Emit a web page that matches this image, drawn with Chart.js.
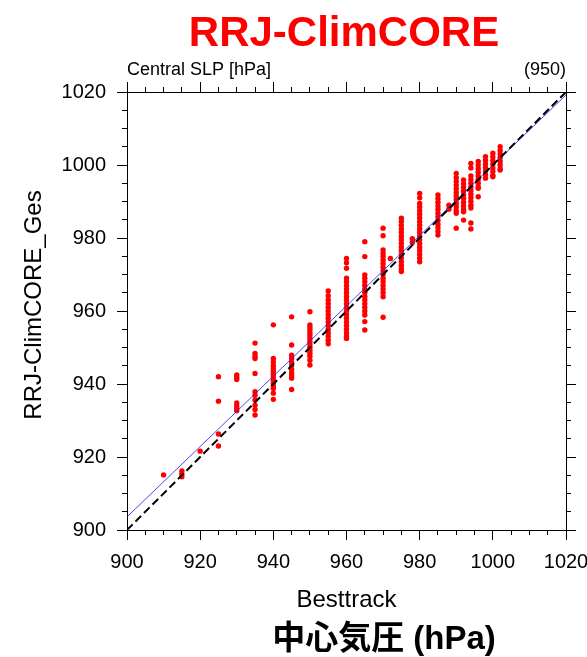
<!DOCTYPE html>
<html>
<head>
<meta charset="utf-8">
<script src="https://cdn.jsdelivr.net/npm/chart.js@4"></script>
<style>
  body { margin: 0; background: #fff; }
  canvas { display: block; }
</style>
</head>
<body>
<canvas id="chart" width="587" height="657"></canvas>
<script>
// Besttrack pressure of each column and the guess values read off at it
const bestTrack = [910, 915, 920, 925, 930, 935, 940, 945, 950, 955, 960, 965, 970, 972,
                   975, 978, 980, 985, 988, 990, 992, 994, 996, 998, 1000, 1002];
const gesValues = [
    [915.1],
    [916.2, 915.4, 914.6],
    [921.6],
    [942.0, 935.3, 926.3, 923.0],
    [942.5, 941.8, 941.2, 934.8, 934.0, 933.3, 932.7],
    [951.2, 948.4, 947.6, 947.0, 942.9, 937.9, 936.9, 935.6, 934.2, 933.0, 931.5],
    [956.2, 947.0, 946.0, 945.0, 944.2, 943.5, 942.6, 941.8, 941.0, 940.2, 939.5, 938.8, 937.5, 935.8],
    [958.4, 950.7, 947.9, 947.0, 946.0, 945.0, 944.0, 943.0, 942.2, 941.6, 938.5],
    [959.8, 956.2, 955.5, 954.8, 954.0, 953.2, 952.4, 951.6, 950.8, 950.0, 949.2, 948.4, 947.6, 946.5, 945.2],
    [965.5, 964.2, 963.0, 962.0, 961.0, 960.0, 959.0, 958.0, 957.0, 956.0, 955.0, 954.0, 953.0, 952.0, 951.0],
    [974.4, 973.2, 971.7, 969.0, 968.0, 967.0, 966.0, 965.0, 964.0, 963.0, 962.0, 961.0, 960.0, 959.0, 958.0,
     957.0, 956.0, 955.0, 954.0, 953.0, 952.5],
    [979.0, 974.9, 969.9, 969.0, 968.0, 967.0, 966.0, 965.0, 964.0, 963.0, 962.0, 961.0, 960.0, 958.9, 957.1, 954.8],
    [982.7, 980.6, 976.7, 975.8, 975.0, 974.0, 973.0, 972.0, 971.0, 970.0, 969.0, 968.0, 967.0, 966.0, 965.0,
     963.9, 958.3],
    [974.4],
    [985.4, 984.5, 983.5, 982.5, 981.5, 980.5, 979.5, 978.5, 977.5, 976.5, 975.5, 974.5, 973.5, 972.5, 971.5, 970.8],
    [979.8, 978.8],
    [992.2, 991.0, 989.5, 988.5, 987.5, 986.5, 985.5, 984.5, 983.5, 982.5, 981.5, 980.5, 979.5, 978.5, 977.5,
     976.5, 975.5, 974.5, 973.5],
    [991.8, 990.8, 989.8, 988.8, 987.8, 986.8, 985.8, 984.8, 983.8, 982.8, 981.8, 980.8],
    [989.0, 987.9],
    [997.7, 996.5, 995.5, 994.5, 993.5, 992.5, 991.5, 990.5, 989.5, 988.5, 987.5, 986.8, 982.7],
    [995.9, 994.8, 993.8, 992.8, 991.8, 990.8, 989.8, 988.8, 987.8, 987.2, 984.9],
    [1000.4, 999.2, 997.0, 996.0, 995.0, 994.0, 993.0, 992.0, 991.0, 990.0, 989.0, 988.2, 984.1, 982.5],
    [1001.0, 1000.0, 999.0, 998.0, 997.0, 996.0, 995.0, 994.0, 993.6, 991.3],
    [1002.3, 1001.3, 1000.3, 999.3, 998.3, 997.3, 996.4],
    [1003.2, 1002.2, 1001.2, 1000.2, 999.2, 998.2, 997.2, 996.8],
    [1005.0, 1004.0, 1003.0, 1002.0, 1001.0, 1000.0, 999.0, 998.6]
];

// 1:1 line and the fitted line (end points)
const refX = [900, 1020];
const refY = [900, 1020];
const fitX = [900, 1020];
const fitY = [903.6, 1019.2];

const axisMin = 900;
const axisMax = 1020;
const majorStep = 20;
const minorStep = 5;

const titleText = 'RRJ-ClimCORE';
const leftString = 'Central SLP [hPa]';
const rightString = '(950)';
const xTitle = 'Besttrack';
const yTitle = 'RRJ-ClimCORE_Ges';
const caption = '中心気圧 (hPa)';

const points = [];
bestTrack.forEach((bt, i) => {
    gesValues[i].forEach(v => points.push({ x: bt, y: v }));
});
const toXY = (xs, ys) => xs.map((x, i) => ({ x: x, y: ys[i] }));

Chart.defaults.font.family = '"Liberation Sans", Arial, sans-serif';
Chart.defaults.color = '#000';

// one axis per side with labels + major ticks, one more per side for minor ticks
function makeAxis(axis, position, step, tickLen, size, showLabels, weight) {
    return {
        type: 'linear',
        axis: axis,
        position: position,
        min: axisMin,
        max: axisMax,
        weight: weight,
        ticks: {
            display: showLabels,
            stepSize: step,
            autoSkip: false,
            maxRotation: 0,
            padding: axis === 'x' ? 10 : 11,
            font: { size: 20 },
            color: '#000',
            callback: (value) => String(value)
        },
        grid: {
            drawOnChartArea: false,
            drawTicks: true,
            tickLength: tickLen,
            tickColor: '#000',
            tickWidth: 1
        },
        border: { display: true, color: '#000', width: 1 },
        afterFit(scale) {
            if (axis === 'x') scale.height = size;
            else scale.width = size;
            scale.paddingLeft = 0;
            scale.paddingRight = 0;
            scale.paddingTop = 0;
            scale.paddingBottom = 0;
        }
    };
}

const textPlugin = {
    id: 'textPlugin',
    afterDraw(chart) {
        const c = chart.ctx;
        const area = chart.chartArea;
        c.save();

        c.fillStyle = '#ff0000';
        c.font = 'bold 42px "Liberation Sans"';
        c.textAlign = 'center';
        c.textBaseline = 'alphabetic';
        c.fillText(titleText, 344, 46);

        c.fillStyle = '#000';
        c.font = '18px "Liberation Sans"';
        c.textAlign = 'left';
        c.fillText(leftString, area.left, 75);
        c.textAlign = 'right';
        c.fillText(rightString, area.right, 75);

        c.font = '24px "Liberation Sans"';
        c.textAlign = 'center';
        c.fillText(xTitle, (area.left + area.right) / 2, 607);

        c.save();
        c.translate(41, (area.top + area.bottom) / 2 - 6);
        c.rotate(-Math.PI / 2);
        c.fillText(yTitle, 0, 0);
        c.restore();

        c.font = 'bold 33px "Liberation Sans", "Noto Sans CJK JP"';
        c.textAlign = 'center';
        c.fillText(caption, 384, 649);

        c.restore();
    }
};

new Chart(document.getElementById('chart'), {
    type: 'scatter',
    data: {
        datasets: [
            {
                data: toXY(refX, refY),
                showLine: true,
                borderColor: '#000',
                borderWidth: 2,
                borderDash: [8, 4],
                pointRadius: 0
            },
            {
                data: toXY(fitX, fitY),
                showLine: true,
                borderColor: 'rgba(40, 40, 255, 0.85)',
                borderWidth: 1,
                pointRadius: 0
            },
            {
                data: points,
                backgroundColor: '#ff0000',
                borderWidth: 0,
                pointRadius: 2.7
            }
        ]
    },
    options: {
        responsive: false,
        animation: false,
        layout: { padding: { top: 92, right: 21, left: 0, bottom: 0 } },
        plugins: {
            legend: { display: false },
            tooltip: { enabled: false }
        },
        scales: {
            x: makeAxis('x', 'bottom', majorStep, 10, 127, true, 1),
            xMinor: makeAxis('x', 'bottom', minorStep, 5, 0, false, 0),
            xTop: makeAxis('x', 'top', majorStep, 10, 0, false, 1),
            xTopMinor: makeAxis('x', 'top', minorStep, 5, 0, false, 0),
            y: makeAxis('y', 'left', majorStep, 10, 127, true, 1),
            yMinor: makeAxis('y', 'left', minorStep, 5, 0, false, 0),
            yRight: makeAxis('y', 'right', majorStep, 10, 0, false, 1),
            yRightMinor: makeAxis('y', 'right', minorStep, 5, 0, false, 0)
        }
    },
    plugins: [textPlugin]
});
</script>
</body>
</html>
